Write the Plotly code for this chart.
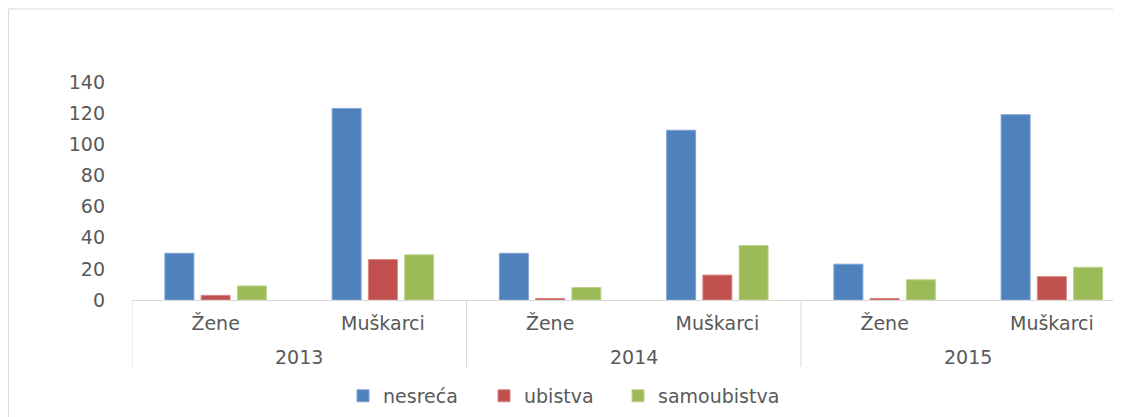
import plotly.graph_objects as go

years = ["2013", "2013", "2014", "2014", "2015", "2015"]
genders = ["Žene", "Muškarci", "Žene", "Muškarci", "Žene", "Muškarci"]
series_names = ["nesreća", "ubistva", "samoubistva"]
nesreca = [30, 123, 30, 109, 23, 119]
ubistva = [3, 26, 1, 16, 1, 15]
samoubistva = [9, 29, 8, 35, 13, 21]
colors = ["#4F81BD", "#C0504D", "#9BBB59"]
edge_colors = ["#7FA3D3", "#D88583", "#BBD38D"]
y_ticks = [0, 20, 40, 60, 80, 100, 120, 140]

FONT = "DejaVu Sans"
TXT = "#595959"
LINE = "#D9D9D9"
FS = 19

idx = list(range(len(genders)))

# page has an 8px body margin, so the figure is sized to fill the rest
W, H = 1113, 409
L, R, T, B = 124, 0, 74, 117
plot_w = W - L - R
plot_h = H - T - B
cat_w = 167.25
x_max = -0.5 + plot_w / cat_w

legend_ids = ["legend", "legend2", "legend3"]
legend_x_px = [335, 476, 610]

fig = go.Figure()
for name, vals, c, ec, lg in zip(series_names, [nesreca, ubistva, samoubistva],
                                 colors, edge_colors, legend_ids):
    fig.add_trace(go.Bar(
        x=idx, y=vals, name=name, legend=lg,
        marker=dict(color=c, line=dict(color=ec, width=1)),
    ))

legend_common = dict(orientation="h", xanchor="left", y=-0.44, yanchor="middle",
                      font=dict(family=FONT, size=FS, color=TXT), itemwidth=30,
                      bgcolor="rgba(0,0,0,0)")
legends = {}
for lg, px in zip(legend_ids, legend_x_px):
    legends[lg] = dict(legend_common, x=(px - L) / plot_w)

# year group labels and dividers
unique_years = list(dict.fromkeys(years))
annotations = []
shapes = []
for i, yr in enumerate(unique_years):
    members = [k for k, v in enumerate(years) if v == yr]
    center = sum(members) / len(members)
    annotations.append(dict(x=center, xref="x", y=-57 / plot_h, yref="paper",
                            text=yr, showarrow=False, yanchor="middle",
                            font=dict(family=FONT, size=FS, color=TXT)))
    shapes.append(dict(type="line", xref="x", yref="paper",
                       x0=members[0] - 0.5, x1=members[0] - 0.5,
                       y0=0, y1=-67 / plot_h, line=dict(color=LINE, width=1)))

shapes.append(dict(type="rect", xref="paper", yref="paper",
                   x0=(0.5 - L) / plot_w, x1=1.01, y0=-0.6, y1=(plot_h + T - 1) / plot_h,
                   line=dict(color=LINE, width=1), fillcolor="rgba(0,0,0,0)", layer="below"))

fig.update_layout(
    width=W, height=H,
    margin=dict(l=L, r=R, t=T, b=B),
    paper_bgcolor="white", plot_bgcolor="white",
    barmode="group", bargap=0.35, bargroupgap=0.2,
    font=dict(family=FONT, size=FS, color=TXT),
    showlegend=True,
    xaxis=dict(
        range=[-0.5, x_max], tickvals=idx, ticktext=genders,
        showline=True, linecolor=LINE, linewidth=1,
        showgrid=False, zeroline=False, ticks="",
        tickfont=dict(family=FONT, size=FS, color=TXT),
        ticklabelstandoff=6,
    ),
    yaxis=dict(
        range=[0, 140], tickvals=y_ticks, showgrid=False, showline=False,
        zeroline=False, ticks="", tickfont=dict(family=FONT, size=FS, color=TXT),
        ticklabelstandoff=26,
    ),
    annotations=annotations,
    shapes=shapes,
    **legends,
)

fig.write_html("out.html")
